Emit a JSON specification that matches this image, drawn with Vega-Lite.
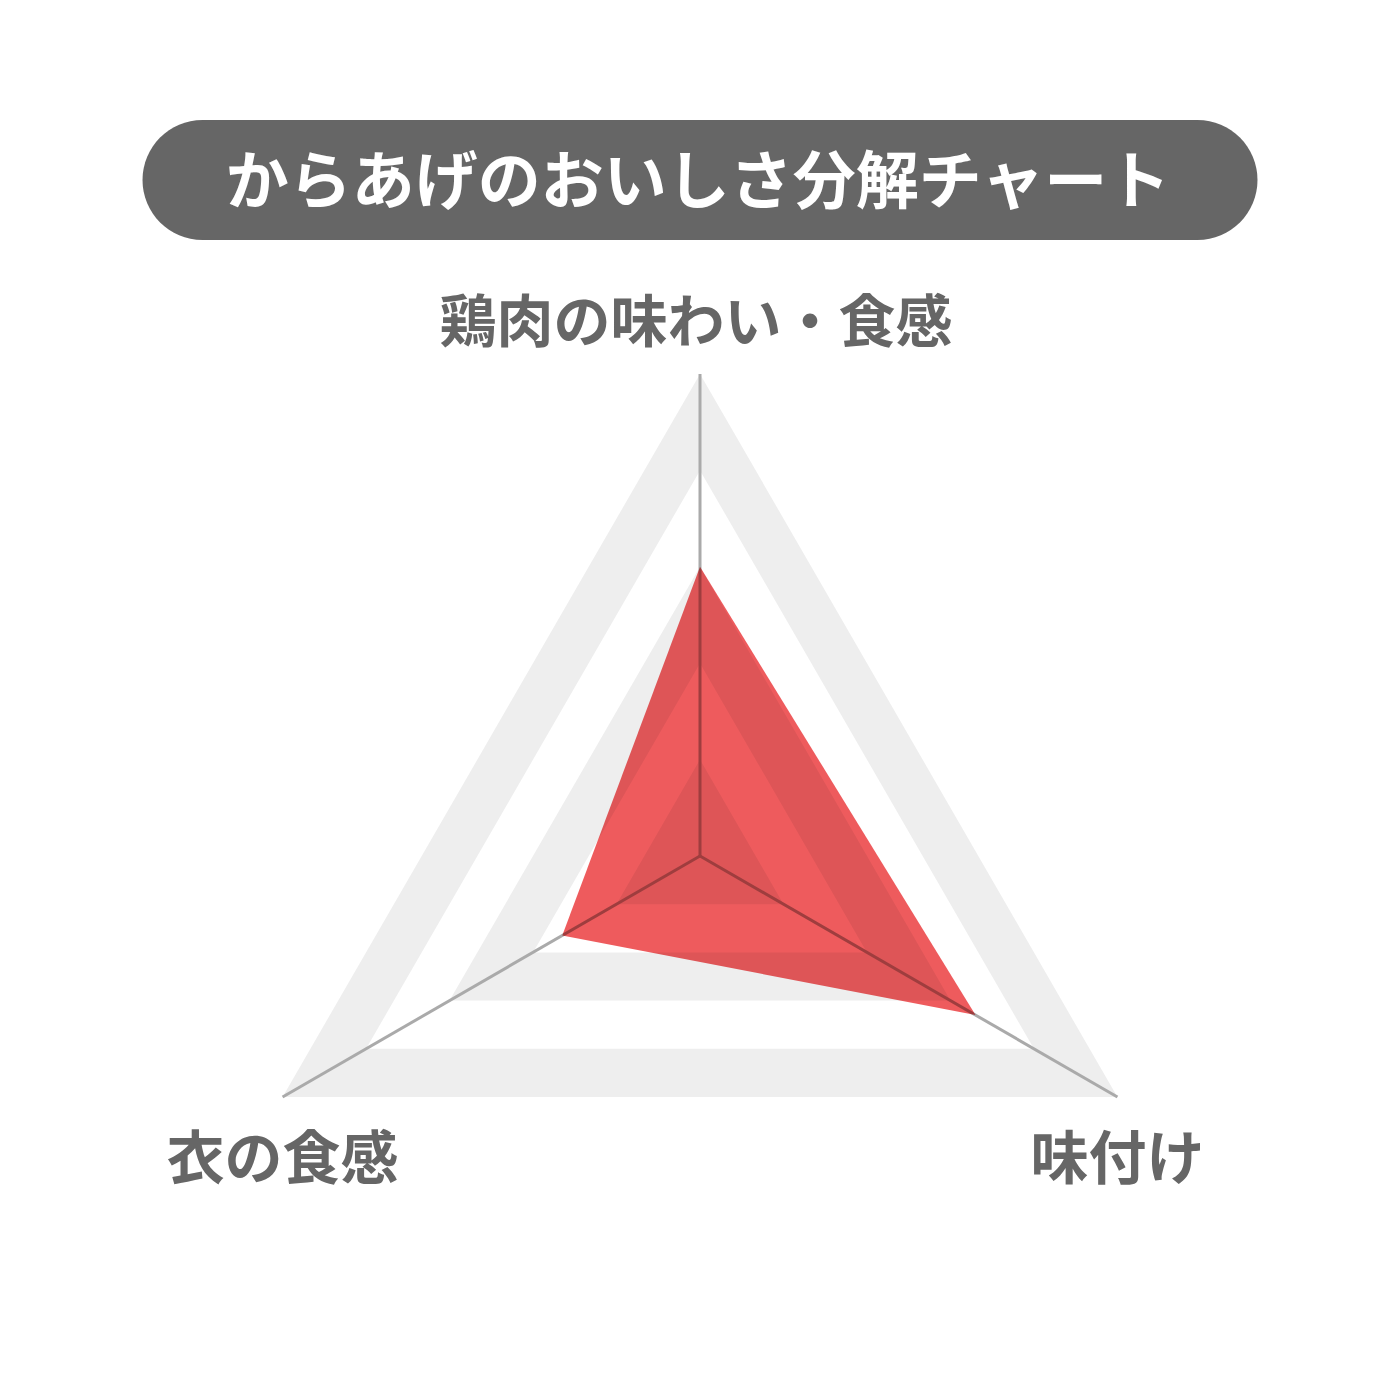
{
  "$schema": "https://vega.github.io/schema/vega-lite/v6.json",
  "background": "white",
  "padding": {"top": 120, "left": 0, "right": 0, "bottom": 0},
  "spacing": 0,
  "center": true,
  "config": {"view": {"stroke": null}},
  "datasets": {
    "scores": [
      {"axis": "鶏肉の味わい・食感", "score": 60},
      {"axis": "味付け", "score": 66},
      {"axis": "衣の食感", "score": 33}
    ],
    "grid": [
      {"level": 100, "axis": "鶏肉の味わい・食感"},
      {"level": 100, "axis": "味付け"},
      {"level": 100, "axis": "衣の食感"},
      {"level": 80, "axis": "鶏肉の味わい・食感"},
      {"level": 80, "axis": "味付け"},
      {"level": 80, "axis": "衣の食感"},
      {"level": 60, "axis": "鶏肉の味わい・食感"},
      {"level": 60, "axis": "味付け"},
      {"level": 60, "axis": "衣の食感"},
      {"level": 40, "axis": "鶏肉の味わい・食感"},
      {"level": 40, "axis": "味付け"},
      {"level": 40, "axis": "衣の食感"},
      {"level": 20, "axis": "鶏肉の味わい・食感"},
      {"level": 20, "axis": "味付け"},
      {"level": 20, "axis": "衣の食感"}
    ]
  },
  "vconcat": [
    {
      "width": 1115,
      "height": 120,
      "view": {"fill": "#666666", "stroke": null, "cornerRadius": 60},
      "data": {"values": [{"title": "からあげのおいしさ分解チャート"}]},
      "mark": {
        "type": "text",
        "font": "Noto Sans CJK JP",
        "fontWeight": "bold",
        "fontSize": 63,
        "letterSpacing": 10.5,
        "color": "white",
        "align": "center",
        "baseline": "middle",
        "dx": -2,
        "dy": 4
      },
      "encoding": {"text": {"field": "title", "type": "nominal"}}
    },
    {
      "width": 1400,
      "height": 1160,
      "encoding": {
        "x": {
          "field": "x",
          "type": "quantitative",
          "scale": {"domain": [-1.45228, 1.45228], "nice": false, "zero": false},
          "axis": null
        },
        "y": {
          "field": "y",
          "type": "quantitative",
          "scale": {"domain": [-1.12863, 1.27801], "nice": false, "zero": false},
          "axis": null
        }
      },
      "layer": [
        {
          "data": {"name": "grid"},
          "transform": [
            {"calculate": "indexof(['鶏肉の味わい・食感', '味付け', '衣の食感'], datum.axis)", "as": "idx"},
            {"calculate": "PI / 2 - datum.idx * 2 * PI / 3", "as": "angle"},
            {"calculate": "datum.level / 100 * cos(datum.angle)", "as": "x"},
            {"calculate": "datum.level / 100 * sin(datum.angle)", "as": "y"}
          ],
          "encoding": {"order": {"field": "idx", "type": "quantitative"}},
          "layer": [
            {
              "transform": [{"filter": "datum.level == 100"}],
              "mark": {"type": "line", "interpolate": "linear-closed", "fill": "#eeeeee", "strokeWidth": 0}
            },
            {
              "transform": [{"filter": "datum.level == 80"}],
              "mark": {"type": "line", "interpolate": "linear-closed", "fill": "#ffffff", "strokeWidth": 0}
            },
            {
              "transform": [{"filter": "datum.level == 60"}],
              "mark": {"type": "line", "interpolate": "linear-closed", "fill": "#eeeeee", "strokeWidth": 0}
            },
            {
              "transform": [{"filter": "datum.level == 40"}],
              "mark": {"type": "line", "interpolate": "linear-closed", "fill": "#ffffff", "strokeWidth": 0}
            },
            {
              "transform": [{"filter": "datum.level == 20"}],
              "mark": {"type": "line", "interpolate": "linear-closed", "fill": "#eeeeee", "strokeWidth": 0}
            }
          ]
        },
        {
          "data": {"name": "scores"},
          "transform": [
            {"calculate": "indexof(['鶏肉の味わい・食感', '味付け', '衣の食感'], datum.axis)", "as": "idx"},
            {"calculate": "PI / 2 - datum.idx * 2 * PI / 3", "as": "angle"},
            {"calculate": "cos(datum.angle)", "as": "x"},
            {"calculate": "sin(datum.angle)", "as": "y"}
          ],
          "layer": [
            {
              "mark": {"type": "rule", "color": "#aaaaaa", "strokeWidth": 3},
              "encoding": {"x2": {"datum": 0}, "y2": {"datum": 0}}
            },
            {
              "transform": [{"filter": "datum.idx == 0"}],
              "mark": {
                "type": "text",
                "font": "Noto Sans CJK JP",
                "fontWeight": "bold",
                "fontSize": 57,
                "letterSpacing": -9,
                "color": "#666666",
                "align": "center",
                "baseline": "middle",
                "dx": -4,
                "dy": -49
              },
              "encoding": {"text": {"field": "axis", "type": "nominal"}}
            },
            {
              "transform": [{"filter": "datum.idx > 0"}],
              "mark": {
                "type": "text",
                "font": "Noto Sans CJK JP",
                "fontWeight": "bold",
                "fontSize": 58,
                "letterSpacing": -1,
                "color": "#666666",
                "align": "center",
                "baseline": "middle",
                "dy": 65
              },
              "encoding": {"text": {"field": "axis", "type": "nominal"}}
            }
          ]
        },
        {
          "data": {"name": "scores"},
          "transform": [
            {"calculate": "indexof(['鶏肉の味わい・食感', '味付け', '衣の食感'], datum.axis)", "as": "idx"},
            {"calculate": "PI / 2 - datum.idx * 2 * PI / 3", "as": "angle"},
            {"calculate": "datum.score / 100 * cos(datum.angle)", "as": "x"},
            {"calculate": "datum.score / 100 * sin(datum.angle)", "as": "y"}
          ],
          "mark": {
            "type": "line",
            "interpolate": "linear-closed",
            "fill": "#ee5b5d",
            "strokeWidth": 0,
            "blend": "multiply"
          },
          "encoding": {
            "order": {"field": "idx", "type": "quantitative"},
            "tooltip": [
              {"field": "axis", "type": "nominal"},
              {"field": "score", "type": "quantitative"}
            ]
          }
        }
      ]
    }
  ]
}
